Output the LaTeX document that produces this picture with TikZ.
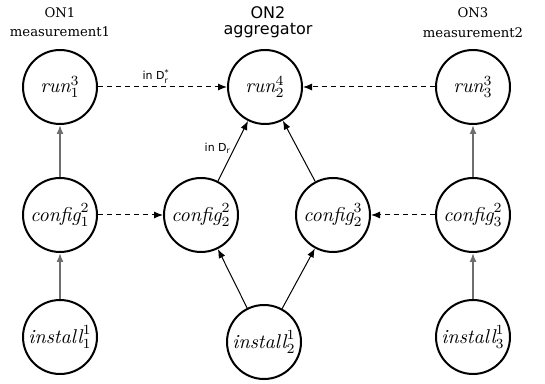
\documentclass[tikz,border=0pt]{standalone}
\usepackage{fontspec}
\newfontfamily\headserif{DejaVu Serif}
\newfontfamily\headsans{DejaVu Sans}
\usetikzlibrary{positioning,arrows.meta}
\definecolor{mygray}{RGB}{110,110,110}

\begin{document}
\begin{tikzpicture}[x=0.5pt,y=-0.5pt,
    statenode/.style={draw,circle,line width=1pt,minimum size=37pt,inner sep=0pt},
    headnode/.style={inner sep=0pt},
    lblnode/.style={font=\headsans\fontsize{5.5}{6}\selectfont,inner sep=1.5pt},
    deparrow/.style={-{Latex[length=4.5pt,width=3.5pt]},mygray,line width=0.8pt},
    aggarrow/.style={-{Latex[length=4.5pt,width=3.5pt]},line width=0.5pt},
    dasharrow/.style={-{Latex[length=4.5pt,width=3.5pt]},line width=0.5pt,dash pattern=on 2.5pt off 2pt}
    ]
    \useasboundingbox (0,0) rectangle (545,384);

    % the headers
    \node[headnode,font=\headserif\fontsize{6.6}{8}\selectfont] (on1) at (60,13) {ON1};
    \node[headnode,font=\headserif\fontsize{6.6}{8}\selectfont] (meas1) at (60,32) {measurement1};
    \node[headnode,font=\headsans\fontsize{8}{9}\selectfont] (on2) at (268,13) {ON2};
    \node[headnode,font=\headsans\fontsize{8}{9}\selectfont] (aggr) at (268,31) {aggregator};
    \node[headnode,font=\headserif\fontsize{6.6}{8}\selectfont] (on3) at (473,13) {ON3};
    \node[headnode,font=\headserif\fontsize{6.6}{8}\selectfont] (meas2) at (473,33) {measurement2};

    % the steps of ON1 and ON3
    \foreach \i/\x in {1/60,3/473} {
    \node[statenode] (run\i) at (\x,87) {$\textit{run}_{\i}^{3}$};
    \node[statenode] (cfg\i) at (\x,215) {$\textit{config}_{\i}^{2}$};
    \node[statenode] (inst\i) at (\x,337) {$\textit{install}_{\i}^{1}$};
    \draw[deparrow] (inst\i) -- (cfg\i);
    \draw[deparrow] (cfg\i) -- (run\i);
    }

    % the steps of ON2
    \node[statenode] (run2) at (265,87) {$\textit{run}_{2}^{4}$};
    \node[statenode] (cfga) at (201,215) {$\textit{config}_{2}^{2}$};
    \node[statenode] (cfgb) at (333,215) {$\textit{config}_{2}^{3}$};
    \node[statenode] (inst2) at (264,342) {$\textit{install}_{2}^{1}$};

    % the edges
    \draw[aggarrow] (inst2) -- (cfga);
    \draw[aggarrow] (inst2) -- (cfgb);
    \draw[aggarrow] (cfga) -- node[lblnode,left,pos=0.55] {in D$_{\mbox{\headsans\fontsize{4}{4}\selectfont r}}$} (run2);
    \draw[aggarrow] (cfgb) -- (run2);
    \draw[dasharrow] (run1) -- node[lblnode,above,pos=0.45] {in D$_{\mbox{\headsans\fontsize{4}{4}\selectfont r}}^{\mbox{\headsans\fontsize{4}{4}\selectfont *}}$} (run2);
    \draw[dasharrow] (run3) -- (run2);
    \draw[dasharrow] (cfg1) -- (cfga);
    \draw[dasharrow] (cfg3) -- (cfgb);
\end{tikzpicture}
\end{document}
